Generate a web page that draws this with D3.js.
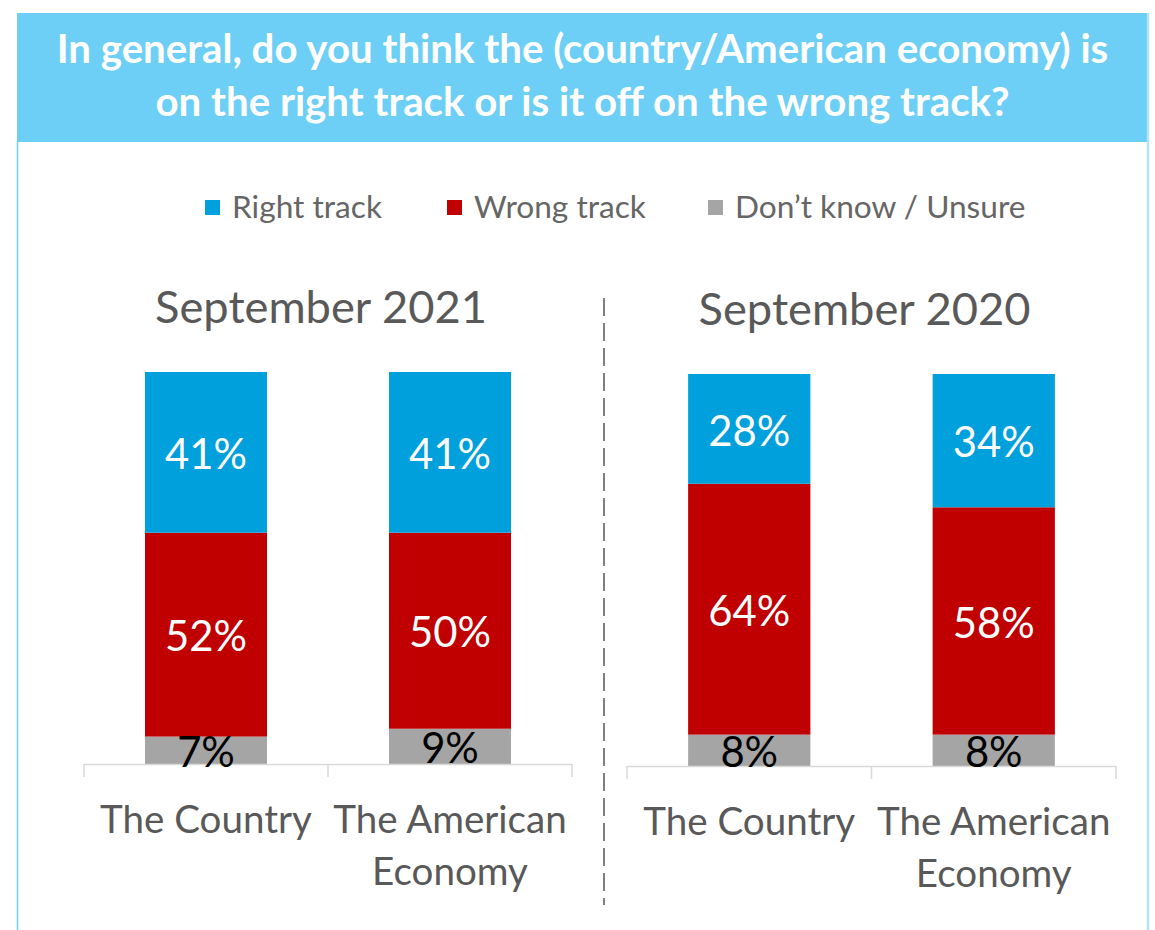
<!DOCTYPE html>
<html><head><meta charset="utf-8">
<script src="https://cdn.jsdelivr.net/npm/d3@7"></script>
<style>html,body{margin:0;padding:0;background:#fff;} svg{display:block;}</style>
</head><body>
<script>
const titleLines = ["In general, do you think the (country/American economy) is", "on the right track or is it off on the wrong track?"];
const panels = ["September 2021", "September 2020"];
const categories = ["The Country", "The American Economy"];
const seriesNames = ["Right track", "Wrong track", "Don\u2019t know / Unsure"];
const right2021 = [41, 41];
const wrong2021 = [52, 50];
const unsure2021 = [7, 9];
const right2020 = [28, 34];
const wrong2020 = [64, 58];
const unsure2020 = [8, 8];

const colors = {"Right track": "#00a0dc", "Wrong track": "#c00000", "Don\u2019t know / Unsure": "#a5a5a5"};
const labelColors = {"Right track": "#ffffff", "Wrong track": "#ffffff", "Don\u2019t know / Unsure": "#000000"};
const FONT = "Lato, 'Open Sans', sans-serif";

const W = 1155, H = 930;
const svg = d3.select("body").append("svg").attr("width", W).attr("height", H);

function fitSize(str, target, weight) {
  const t = svg.append("text").attr("font-family", FONT).attr("font-size", 100).attr("font-weight", weight || 400).text(str);
  const w = t.node().getComputedTextLength();
  t.remove();
  return 100 * target / w;
}

// header
svg.append("rect").attr("x", 17).attr("y", 13).attr("width", 1130).attr("height", 129).attr("fill", "#6dcff6");
svg.append("line").attr("x1", 17.5).attr("x2", 17.5).attr("y1", 142).attr("y2", H).attr("stroke", "#6dcff6").attr("stroke-width", 1.5);
svg.append("line").attr("x1", 1148).attr("x2", 1148).attr("y1", 13).attr("y2", H).attr("stroke", "#b3e5f7").attr("stroke-width", 2.5);

const titleSize = fitSize(titleLines[0], 1052, 700);
svg.selectAll("text.title").data(titleLines).join("text").attr("class", "title")
  .attr("x", 582.5).attr("y", (d, i) => 63 + i * 53)
  .attr("text-anchor", "middle").attr("font-family", FONT).attr("font-weight", 700)
  .attr("font-size", titleSize).attr("fill", "#ffffff").text(d => d);

// legend
const legendSize = fitSize(seriesNames[0], 150);
const legendX = [205, 447, 708];
const lg = svg.selectAll("g.legend").data(seriesNames).join("g").attr("class", "legend")
  .attr("transform", (d, i) => `translate(${legendX[i]},0)`);
lg.append("rect").attr("x", 0).attr("y", 200).attr("width", 15).attr("height", 15).attr("fill", d => colors[d]);
lg.append("text").attr("x", 27).attr("y", 218).attr("font-family", FONT).attr("font-size", legendSize)
  .attr("fill", "#666666").text(d => d);

// divider
svg.append("line").attr("x1", 604).attr("x2", 604).attr("y1", 298).attr("y2", 905)
  .attr("stroke", "#7f7f7f").attr("stroke-width", 2).attr("stroke-dasharray", "18,7");

const panelTitleSize = fitSize(panels[0], 332);
const catSize = fitSize(categories[0], 212);
const valSize = fitSize("41%", 82);

const panelData = [
  {title: panels[0], right: right2021, wrong: wrong2021, unsure: unsure2021, x0: 84, x1: 572, base: 764, top: 372, titleY: 323},
  {title: panels[1], right: right2020, wrong: wrong2020, unsure: unsure2020, x0: 627, x1: 1116, base: 766, top: 374, titleY: 325}
];

panelData.forEach(p => {
  const g = svg.append("g");
  const x = d3.scaleBand().domain(categories).range([p.x0, p.x1]).paddingInner(0.5).paddingOuter(0.25);
  const y = d3.scaleLinear().domain([0, 100]).range([p.base, p.top]);
  const rows = categories.map((c, i) => ({cat: c, "Right track": p.right[i], "Wrong track": p.wrong[i], "Don\u2019t know / Unsure": p.unsure[i]}));
  const stack = d3.stack().keys([seriesNames[2], seriesNames[1], seriesNames[0]])(rows);
  const segs = stack.flatMap(s => s.map(d => ({key: s.key, d})));

  g.append("text").attr("x", (p.x0 + p.x1) / 2 - 7).attr("y", p.titleY).attr("text-anchor", "middle")
    .attr("font-family", FONT).attr("font-size", panelTitleSize).attr("fill", "#595959").text(p.title);

  g.append("g").selectAll("rect").data(segs).join("rect")
    .attr("x", o => x(o.d.data.cat)).attr("width", x.bandwidth())
    .attr("y", o => y(o.d[1])).attr("height", o => y(o.d[0]) - y(o.d[1]))
    .attr("fill", o => colors[o.key]);

  // axis
  const axisG = g.append("g").attr("transform", `translate(0,${p.base})`);
  axisG.append("line").attr("x1", p.x0).attr("x2", p.x1).attr("y1", 0.5).attr("y2", 0.5).attr("stroke", "#d9d9d9").attr("stroke-width", 1.5);
  const tickXs = [p.x0, ...categories.slice(1).map(c => x(c) - x.step() * x.paddingInner() / 2), p.x1];
  axisG.selectAll("line.tick").data(tickXs).join("line").attr("class", "tick")
    .attr("x1", d => d).attr("x2", d => d).attr("y1", 0).attr("y2", 13).attr("stroke", "#d9d9d9").attr("stroke-width", 1.5);

  // value labels on top of everything
  g.append("g").selectAll("text").data(segs).join("text")
    .attr("x", o => x(o.d.data.cat) + x.bandwidth() / 2)
    .attr("y", o => (y(o.d[0]) + y(o.d[1])) / 2)
    .attr("dy", "0.40em").attr("text-anchor", "middle")
    .attr("font-family", FONT).attr("font-size", valSize).attr("fill", o => labelColors[o.key])
    .text(o => (o.d[1] - o.d[0]) + "%");

  // category labels
  categories.forEach((c, i) => {
    const lines = c === "The American Economy" ? ["The American", "Economy"] : [c];
    g.append("text").attr("text-anchor", "middle").attr("font-family", FONT).attr("font-size", catSize).attr("fill", "#595959")
      .selectAll("tspan").data(lines).join("tspan")
      .attr("x", x(c) + x.bandwidth() / 2).attr("y", (d, j) => p.base + 69 + j * 52).text(d => d);
  });
});
</script>
</body></html>
